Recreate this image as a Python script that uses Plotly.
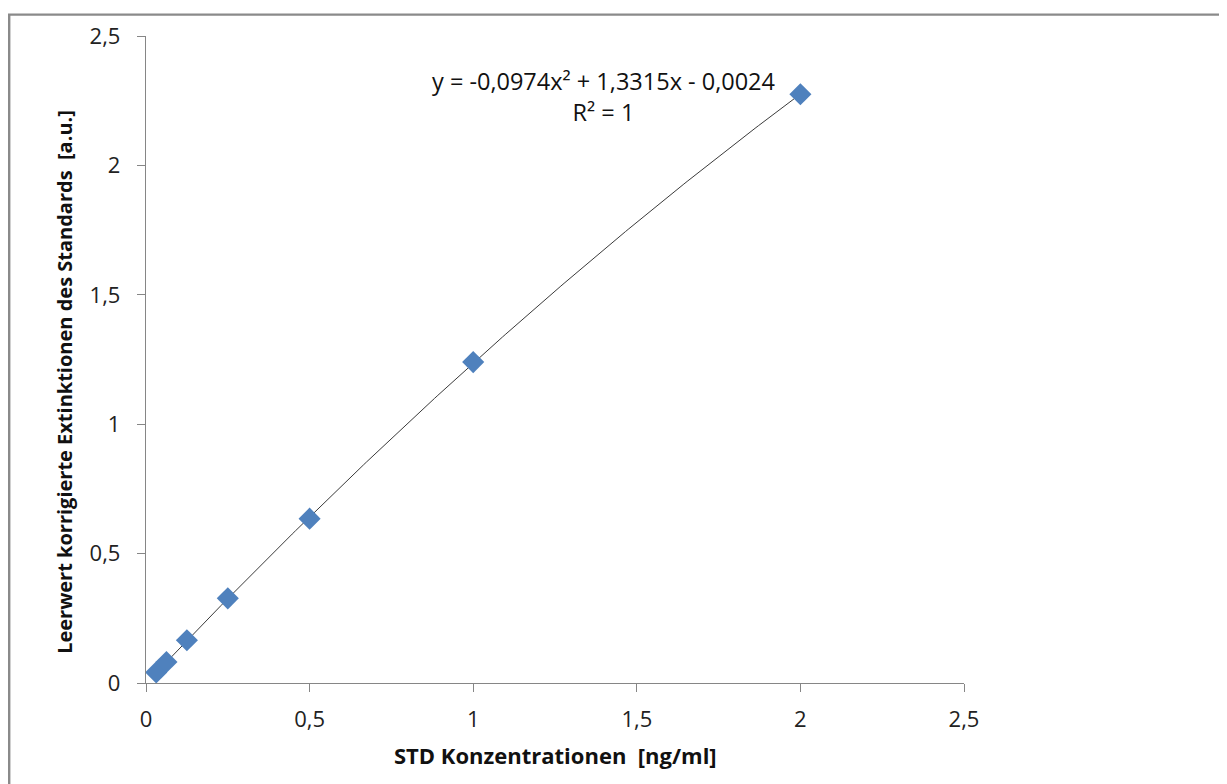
import numpy as np
import plotly.graph_objects as go

# Data
conc = [0.03125, 0.0625, 0.125, 0.25, 0.5, 1.0, 2.0]
extinction = [0.041, 0.081, 0.165, 0.327, 0.635, 1.24, 2.275]

tick_vals = [0, 0.5, 1, 1.5, 2, 2.5]
tick_text = ["0", "0,5", "1", "1,5", "2", "2,5"]

x_title = "STD Konzentrationen\u00a0 [ng/ml]"
y_title = "Leerwert korrigierte Extinktionen des Standards\u00a0 [a.u.]"
equation = "y = -0,0974x\u00b2 + 1,3315x - 0,0024<br>R\u00b2 = 1"

# polynomial (order 2) trendline fitted to the data
coef = np.polyfit(conc, extinction, 2)
xf = np.linspace(min(conc), max(conc), 200)
yf = np.polyval(coef, xf)

FONT = "Open Sans"
W, H = 1227, 784
OFF = 8  # page offset of the figure (body margin)
PX0, PX1, PY0, PY1 = 146, 964, 32, 683  # plot area in page pixels
L, T = PX0 - OFF, PY0 - OFF
pw, ph = PX1 - PX0, PY1 - PY0
R, B = W - L - pw, H - T - ph


def paper_x(p):
    return (p - PX0) / pw


def paper_y(p):
    return (PY1 - p) / ph


fig = go.Figure()
fig.add_trace(go.Scatter(
    x=xf, y=yf, mode="lines",
    line=dict(color="#3a3a3a", width=1),
    hoverinfo="skip", showlegend=False,
))
fig.add_trace(go.Scatter(
    x=conc, y=extinction, mode="markers",
    marker=dict(symbol="diamond", size=17, color="#4F81BD", line=dict(width=0)),
    showlegend=False,
))

fig.add_annotation(
    x=1.397, y=2.266, xref="x", yref="y", text=equation, showarrow=False,
    font=dict(family=FONT, size=23.5, color="#111"), align="center",
)
fig.add_annotation(
    x=paper_x(555), y=paper_y(755), xref="paper", yref="paper", text=x_title,
    showarrow=False, xanchor="center", yanchor="middle",
    font=dict(family=FONT, size=22, color="#111", weight="bold"),
)
fig.add_annotation(
    x=paper_x(65), y=paper_y(380), xref="paper", yref="paper", text=y_title,
    showarrow=False, xanchor="center", yanchor="middle", textangle=-90,
    font=dict(family=FONT, size=20, color="#111", weight="bold"),
)

# outer chart frame (left and top edges visible)
fig.add_shape(
    type="rect", xref="paper", yref="paper",
    x0=paper_x(OFF + 1.2), x1=paper_x(W + 60),
    y0=paper_y(H + 60), y1=paper_y(OFF + 2.5),
    line=dict(color="#8a8a8a", width=2.4), fillcolor="rgba(0,0,0,0)",
    layer="below",
)

axis_common = dict(
    range=[0, 2.5], tickvals=tick_vals, ticktext=tick_text,
    showgrid=False, zeroline=False, showline=True,
    linecolor="#868686", linewidth=1.3,
    ticks="outside", ticklen=8, tickcolor="#868686", tickwidth=1.3,
    tickfont=dict(family=FONT, size=22, color="#222"),
)

fig.update_layout(
    width=W, height=H,
    margin=dict(l=L, r=R, t=T, b=B),
    paper_bgcolor="white", plot_bgcolor="white",
    xaxis=dict(**axis_common, ticklabelstandoff=8),
    yaxis=dict(**axis_common, ticklabelstandoff=12),
)

fig.write_html("out.html")
